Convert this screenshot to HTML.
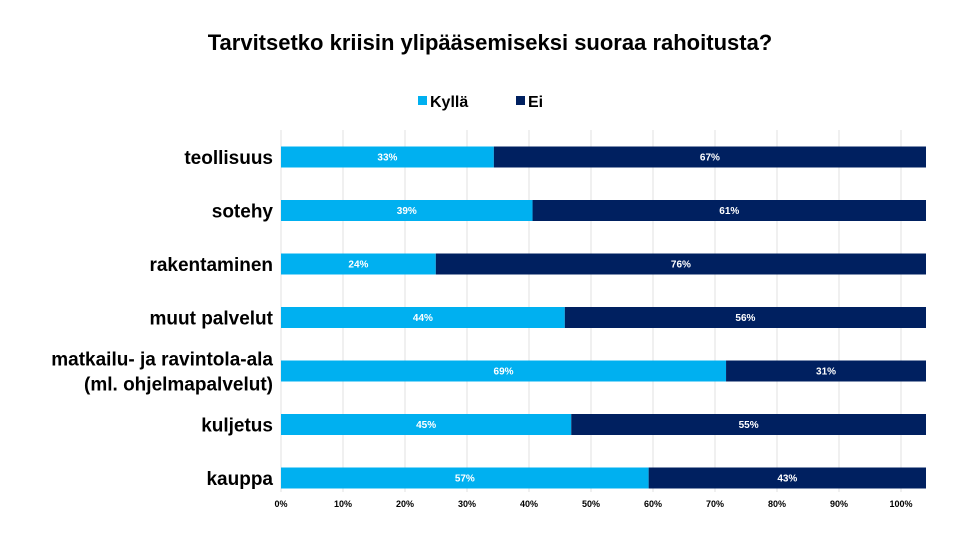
<!DOCTYPE html>
<html><head><meta charset="utf-8"><style>
body{margin:0;background:#fff;width:980px;height:539px;overflow:hidden;font-family:"Liberation Sans",sans-serif}
</style></head><body>
<svg width="980" height="539">
<text x="490" y="50" text-anchor="middle" font-size="22" font-weight="bold" fill="#000">Tarvitsetko kriisin ylipääsemiseksi suoraa rahoitusta?</text>
<g>
<rect x="418" y="96" width="9" height="9" fill="#00b0f0"/>
<text x="430" y="107" font-size="16" font-weight="bold">Kyllä</text>
<rect x="516" y="96" width="9" height="9" fill="#002060"/>
<text x="528" y="107" font-size="16" font-weight="bold">Ei</text>
</g>
<g id="grid"></g><g id="bars"></g><g id="labels"></g><g id="ticks"></g>
</svg>
<script>
const categories=["teollisuus","sotehy","rakentaminen","muut palvelut","matkailu- ja ravintola-ala|(ml. ohjelmapalvelut)","kuljetus","kauppa"];
const kylla=[33,39,24,44,69,45,57];
const ei=[67,61,76,56,31,55,43];
const tickValues=[0,10,20,30,40,50,60,70,80,90,100];
const NS="http://www.w3.org/2000/svg";
const x0=281;
const barScale=v=>x0+v/100*645;
const tickScale=v=>x0+v/100*620;
const rowY=i=>157+i*53.5;
function mk(t,a,p){const e=document.createElementNS(NS,t);for(const k in a)e.setAttribute(k,a[k]);document.getElementById(p).appendChild(e);return e;}
tickValues.forEach((t,i)=>{
 const l=mk('line',{x1:tickScale(t),x2:tickScale(t),y1:130,y2:492,stroke:'#e0e0e0','stroke-width':1},'grid');
 
 
 const tx=mk('text',{x:tickScale(t),y:507,'text-anchor':'middle','font-size':9,'font-weight':'bold'},'ticks');
 tx.textContent=t+'%';
 
 
});
categories.forEach((c,i)=>{
 const y=rowY(i);
 const a=mk('rect',{x:x0,y:y-10.5,width:barScale(kylla[i])-x0,height:21,fill:'#00b0f0'},'bars');
 
 
 const b=mk('rect',{x:barScale(kylla[i]),y:y-10.5,width:barScale(kylla[i]+ei[i])-barScale(kylla[i]),height:21,fill:'#002060'},'bars');
 
 
 const ta=mk('text',{x:(x0+barScale(kylla[i]))/2,y:y+3.5,'text-anchor':'middle','font-size':10,'font-weight':'bold',fill:'#fff'},'bars');
 ta.textContent=kylla[i]+'%';
 
 
 const tb=mk('text',{x:(barScale(kylla[i])+barScale(kylla[i]+ei[i]))/2,y:y+3.5,'text-anchor':'middle','font-size':10,'font-weight':'bold',fill:'#fff'},'bars');
 tb.textContent=ei[i]+'%';
 
 
 const parts=c.split('|');
 parts.forEach((p,j)=>{
  const t=mk('text',{x:273,y:y+7+(j-(parts.length-1)/2)*25,'text-anchor':'end','font-size':19,'font-weight':'bold'},'labels');
  t.textContent=p;
  
  
 });
});
</script>
</body></html>
